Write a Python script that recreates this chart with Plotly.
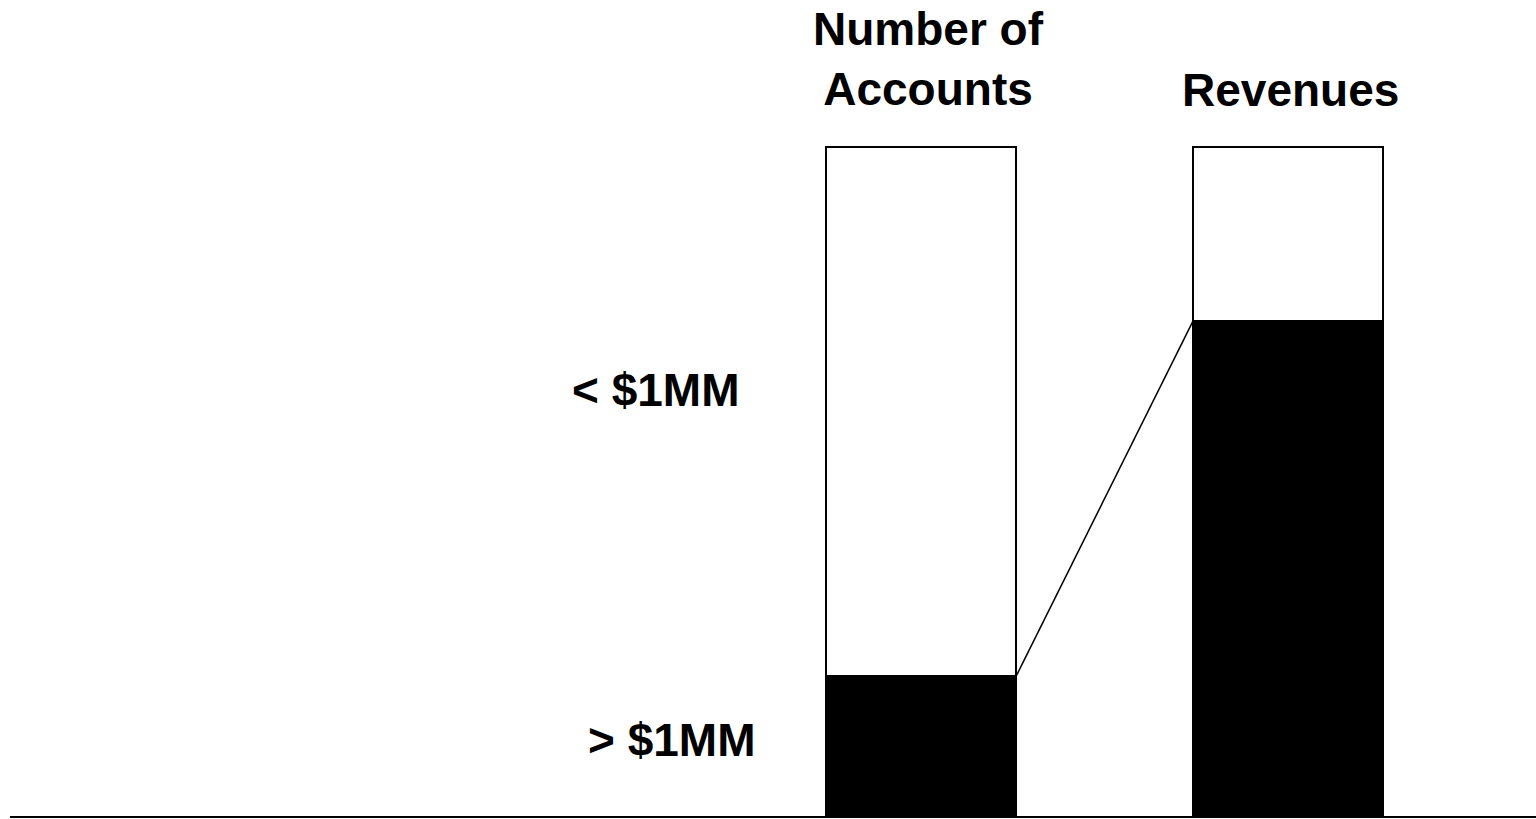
import plotly.graph_objects as go

categories = ["Number of<br>Accounts", "Revenues"]
segments = ["> $1MM", "< $1MM"]
over_1mm = [21, 74]       # % share > $1MM
under_1mm = [79, 26]      # % share < $1MM

W, H = 1536, 819
xpos = [0, 1]
bar_w = 0.518

fig = go.Figure()
fig.add_trace(go.Bar(x=xpos, y=over_1mm, width=bar_w, name=segments[0],
                     marker=dict(color="#000000", line=dict(color="#000000", width=2))))
fig.add_trace(go.Bar(x=xpos, y=under_1mm, width=bar_w, name=segments[1],
                     marker=dict(color="#FFFFFF", line=dict(color="#000000", width=2))))
# connector line between the tops of the "> $1MM" segments
fig.add_trace(go.Scatter(x=[xpos[0] + bar_w / 2, xpos[1] - bar_w / 2],
                         y=[over_1mm[0], over_1mm[1]], mode="lines",
                         line=dict(color="#000000", width=1.5), hoverinfo="skip"))

px_per_x = 367.0
x0 = -921.0 / px_per_x
x1 = x0 + W / px_per_x
px_per_y = 6.7
y0 = -2.0 / px_per_y
y1 = y0 + H / px_per_y

font = "Liberation Sans, Arial, sans-serif"
fs = 46


def a(text, cx, cy):
    return dict(x=cx / W, y=1 - cy / H, xref="paper", yref="paper", text="<b>" + text + "</b>",
                showarrow=False, yanchor="middle", xanchor="center",
                font=dict(family=font, size=fs, color="#000000"))


ann = [
    a(categories[0], 928, 59),
    a(categories[1], 1290, 90),
    a(segments[1], 655, 390),
    a(segments[0], 671, 740),
]

fig.update_layout(
    width=W, height=H, barmode="stack", showlegend=False,
    margin=dict(l=0, r=0, t=0, b=0),
    paper_bgcolor="#FFFFFF", plot_bgcolor="#FFFFFF",
    xaxis=dict(range=[x0, x1], visible=False, fixedrange=True),
    yaxis=dict(range=[y0, y1], visible=False, fixedrange=True),
    annotations=ann,
    shapes=[dict(type="line", xref="paper", yref="y", x0=10 / W, x1=1, y0=0, y1=0,
                 line=dict(color="#000000", width=2))],
)

fig.write_html("out.html", config={"displayModeBar": False})
